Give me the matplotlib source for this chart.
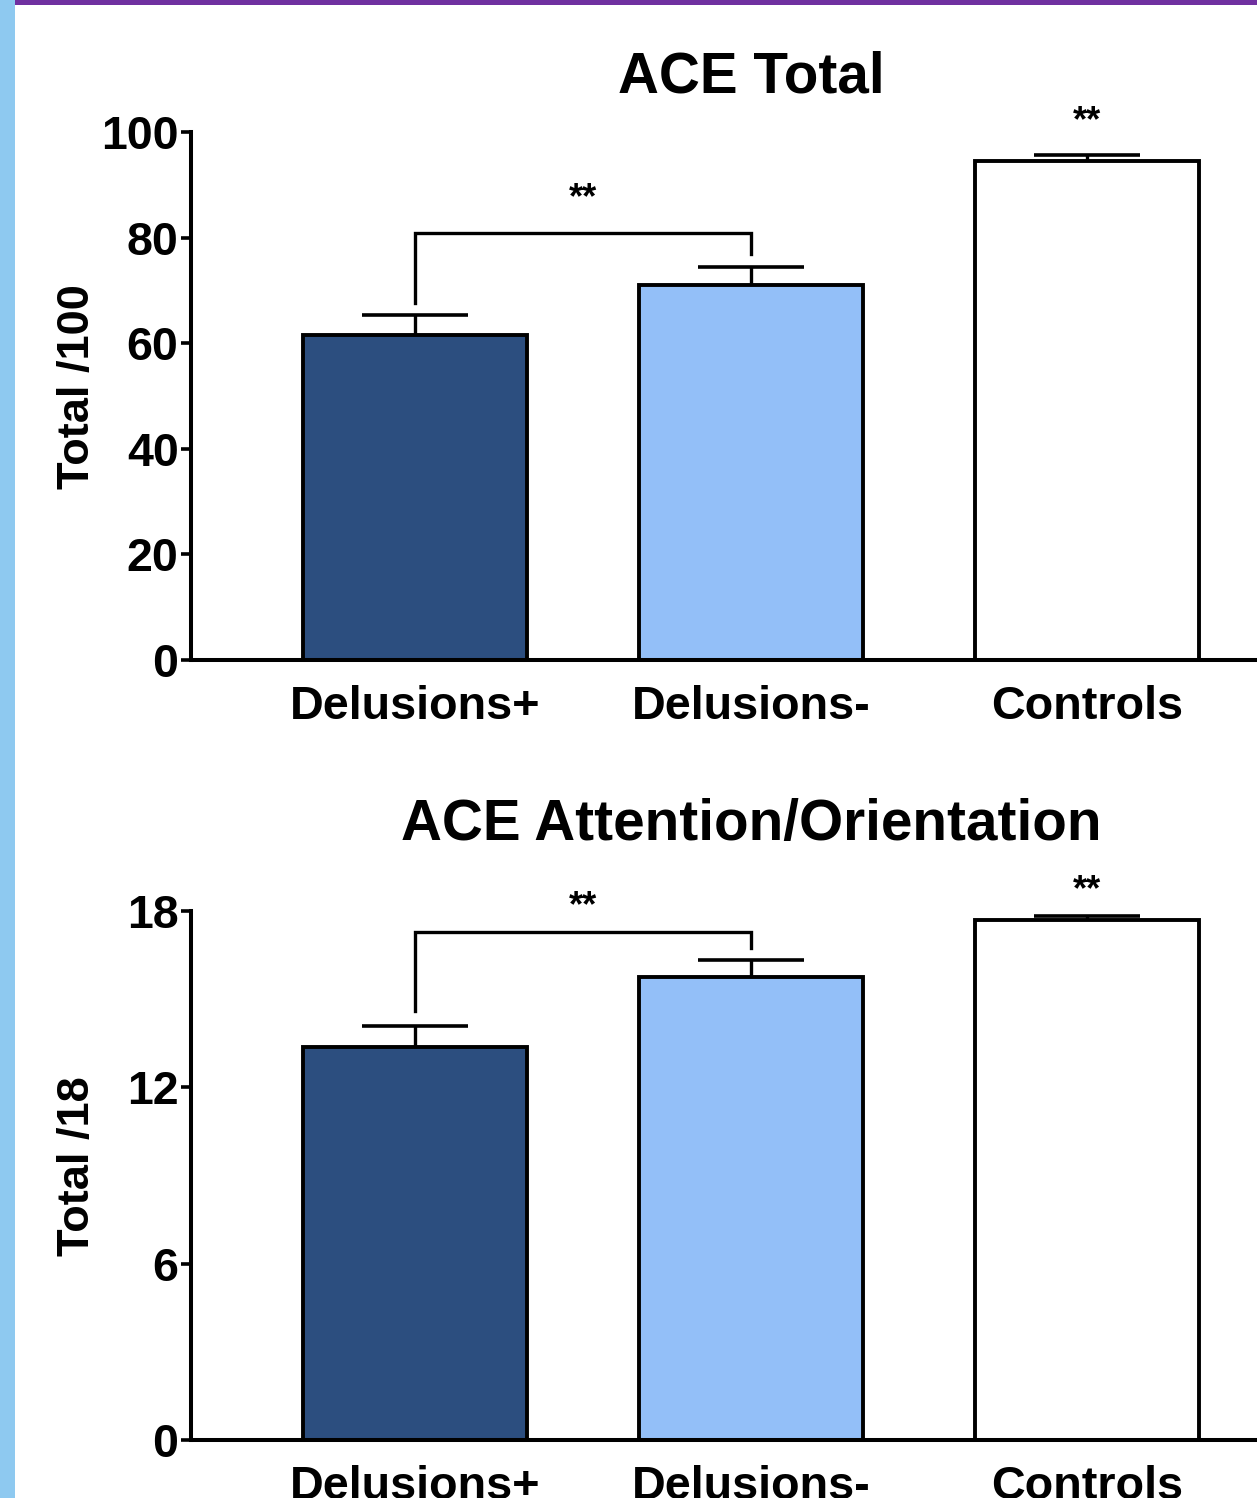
import matplotlib
matplotlib.use("Agg")
import matplotlib.pyplot as plt
from matplotlib.patches import Rectangle

plt.rcParams['font.family'] = ['Liberation Sans', 'DejaVu Sans']
plt.rcParams['font.weight'] = 'bold'

groups = ["Delusions+", "Delusions-", "Controls"]
colors = ["#2c4e7f", "#93bff8", "#ffffff"]

total_means = [61.6, 71.0, 94.6]
total_errs = [3.7, 3.4, 1.1]
total_ticks = [0, 20, 40, 60, 80, 100]
total_bracket = [80.9, 67.7, 76.8, 87.4]  # line y, left leg end, right leg end, star y
total_ctrl_star = 101.9

att_means = [13.37, 15.75, 17.69]
att_errs = [0.72, 0.58, 0.14]
att_ticks = [0, 6, 12, 18]
att_bracket = [17.28, 14.6, 16.75, 18.15]
att_ctrl_star = 18.7

W, H = 1257, 1498
fig = plt.figure(figsize=(W / 100, H / 100), dpi=100)

# slide decorations
fig.patches.append(Rectangle((0, 0), 15 / W, 1, transform=fig.transFigure,
                             facecolor="#8ec9f0", edgecolor="none", zorder=0))
fig.patches.append(Rectangle((15 / W, 1 - 5 / H), 1, 5 / H, transform=fig.transFigure,
                             facecolor="#7030a0", edgecolor="none", zorder=0))

x = list(range(len(groups)))
xlim = (-0.667, 2.667)


def panel(rect, means, errs, ticks, ylabel, title, title_y, bracket, ctrl_star):
    ax = fig.add_axes(rect)
    ax.errorbar(x, means, yerr=errs, fmt="none", ecolor="black", elinewidth=2.4,
                capsize=38, capthick=2.6, zorder=1)
    ax.bar(x, means, width=0.665, color=colors, edgecolor="black", linewidth=2.8, zorder=2)
    ax.set_xlim(*xlim)
    ax.set_ylim(0, ticks[-1])
    ax.set_yticks(ticks)
    ax.set_xticks(x)
    ax.set_xticklabels(groups)
    for s in ["top", "right"]:
        ax.spines[s].set_visible(False)
    for s in ["left", "bottom"]:
        ax.spines[s].set_linewidth(2.9)
    ax.tick_params(axis="y", length=7, width=2.6, pad=2, labelsize=33.5)
    ax.tick_params(axis="x", length=0, pad=18, labelsize=33.7)
    ax.set_ylabel(ylabel, fontsize=32.5, fontweight="bold")
    ax.yaxis.set_label_coords(-0.083, 0.518)
    ax.text(0.5, title_y, title, transform=ax.transAxes, ha="center", va="baseline",
            fontsize=40.8, fontweight="bold")
    yb, yl, yr, ys = bracket
    ax.plot([x[0], x[0], x[1], x[1]], [yl, yb, yb, yr], color="black", lw=2.4,
            solid_joinstyle="miter", clip_on=False, zorder=3)
    ax.text((x[0] + x[1]) / 2, ys, "**", ha="center", va="center", fontsize=26,
            fontweight="bold", clip_on=False)
    ax.text(x[2], ctrl_star, "**", ha="center", va="center", fontsize=26,
            fontweight="bold", clip_on=False)
    return ax


axw = (336 * (xlim[1] - xlim[0])) / W
panel([191 / W, 1 - 660 / H, axw, 528 / H], total_means, total_errs, total_ticks,
      "Total /100", "ACE Total", 1.074, total_bracket, total_ctrl_star)
panel([191 / W, 1 - 1440 / H, axw, 529 / H], att_means, att_errs, att_ticks,
      "Total /18", "ACE Attention/Orientation", 1.134, att_bracket, att_ctrl_star)

fig.savefig("out.png", dpi=100)
